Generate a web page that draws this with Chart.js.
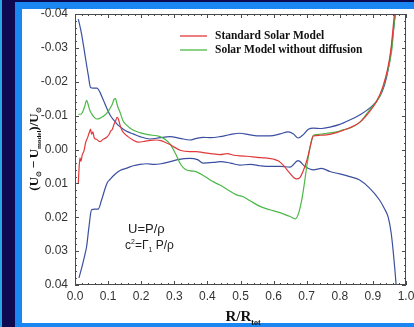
<!DOCTYPE html>
<html><head><meta charset="utf-8">
<script src="https://cdn.jsdelivr.net/npm/chart.js@4.4.1/dist/chart.umd.min.js"></script>
<style>
html,body{margin:0;padding:0;}
body{width:414px;height:327px;position:relative;overflow:hidden;background:#0e0a52;}
#cy{position:absolute;left:0;top:0;width:2px;height:327px;background:#25a5e6;}
#bl{position:absolute;left:15px;top:2px;right:0;bottom:0;background:#1a86f2;}
#wh{position:absolute;left:22px;top:9px;right:0;bottom:4px;background:#fff;}
#wrap{position:absolute;left:0;top:0;width:414px;height:327px;}
</style></head>
<body>
<div id="cy"></div><div id="bl"></div><div id="wh"></div>
<div id="wrap"><canvas id="c" width="414" height="327"></canvas></div>
<script>
// ---- data ----
const xTicks = [0.0,0.1,0.2,0.3,0.4,0.5,0.6,0.7,0.8,0.9,1.0];
const yTicks = [-0.04,-0.03,-0.02,-0.01,0.00,0.01,0.02,0.03,0.04];
const seriesNames = ['Standard Solar Model','Solar Model without diffusion'];

const redX = [0.01,0.012,0.015,0.018,0.022,0.027,0.032,0.038,0.043,0.047,0.05,0.054,0.058,0.065,0.075,0.085,0.096,0.103,0.108,0.113,0.118,0.122,0.127,0.131,0.136,0.141,0.15,0.16,0.175,0.19,0.21,0.227,0.245,0.26,0.275,0.287,0.30,0.32,0.347,0.367,0.387,0.41,0.438,0.46,0.48,0.498,0.52,0.55,0.575,0.598,0.615,0.629,0.645,0.66,0.67,0.68,0.69,0.698,0.705,0.712,0.72,0.74,0.76,0.79,0.83,0.86,0.89,0.91,0.93,0.945,0.955,0.962,0.966];
const redY = [0.0100,0.0060,0.0025,0.0035,0.0015,0.0005,-0.0020,-0.0035,-0.0050,-0.0060,-0.0045,-0.0052,-0.0035,-0.0030,-0.0023,-0.0030,-0.0036,-0.0045,-0.0055,-0.0060,-0.0075,-0.0082,-0.0095,-0.0090,-0.0072,-0.0058,-0.0046,-0.0038,-0.0028,-0.0022,-0.0024,-0.0027,-0.0028,-0.0026,-0.0020,-0.0015,-0.0007,0.0003,0.0006,0.0006,0.0009,0.0012,0.0015,0.0012,0.0017,0.0019,0.0020,0.0023,0.0025,0.0028,0.0034,0.0046,0.0065,0.0082,0.0087,0.0082,0.0062,0.0040,0.0015,-0.0015,-0.0040,-0.0042,-0.0043,-0.0050,-0.0064,-0.0080,-0.0112,-0.0140,-0.0185,-0.0240,-0.0300,-0.0370,-0.0410];

const greenX = [0.01,0.018,0.025,0.03,0.035,0.04,0.045,0.05,0.058,0.065,0.075,0.085,0.095,0.105,0.112,0.118,0.122,0.128,0.136,0.145,0.156,0.171,0.196,0.22,0.257,0.275,0.29,0.305,0.32,0.335,0.35,0.367,0.39,0.415,0.438,0.46,0.488,0.51,0.53,0.559,0.589,0.61,0.629,0.65,0.665,0.675,0.685,0.693,0.70,0.708,0.715,0.72,0.74,0.76,0.79,0.81,0.83,0.86,0.89,0.92,0.94,0.957,0.965,0.968];
const greenY = [-0.0104,-0.0104,-0.0115,-0.0130,-0.0145,-0.0132,-0.0115,-0.0106,-0.0095,-0.0090,-0.0092,-0.0098,-0.0106,-0.0120,-0.0132,-0.0148,-0.0150,-0.0130,-0.0110,-0.0085,-0.0072,-0.0060,-0.0050,-0.0044,-0.0038,-0.0028,-0.0012,0.0015,0.0045,0.0060,0.0063,0.0066,0.0078,0.0094,0.0105,0.0118,0.0134,0.0140,0.0152,0.0168,0.0178,0.0184,0.0190,0.0198,0.0205,0.0190,0.0149,0.0100,0.0051,0.0005,-0.0028,-0.0042,-0.0045,-0.0048,-0.0052,-0.0058,-0.0063,-0.0080,-0.0117,-0.0156,-0.0215,-0.0293,-0.0380,-0.0410];

const blueUpX = [0.01,0.02,0.03,0.04,0.047,0.055,0.066,0.076,0.086,0.096,0.106,0.116,0.13,0.146,0.16,0.176,0.196,0.227,0.257,0.287,0.317,0.347,0.367,0.387,0.41,0.438,0.468,0.498,0.525,0.55,0.589,0.62,0.644,0.66,0.674,0.69,0.705,0.72,0.745,0.77,0.80,0.83,0.86,0.89,0.92,0.935,0.946,0.955,0.961,0.969];
const blueUpY = [-0.0385,-0.0340,-0.0280,-0.0220,-0.0183,-0.0181,-0.0181,-0.0168,-0.0145,-0.0122,-0.0102,-0.0088,-0.0072,-0.0060,-0.0052,-0.0046,-0.0038,-0.0031,-0.0035,-0.0038,-0.0033,-0.0028,-0.0033,-0.0036,-0.0035,-0.0038,-0.0044,-0.0048,-0.0044,-0.0040,-0.0040,-0.0046,-0.0052,-0.0046,-0.0034,-0.0044,-0.0060,-0.0063,-0.0062,-0.0066,-0.0074,-0.0087,-0.0102,-0.0122,-0.0155,-0.0190,-0.0235,-0.0290,-0.0343,-0.0410];

const blueLoX = [0.012,0.02,0.03,0.035,0.042,0.05,0.06,0.07,0.08,0.09,0.097,0.106,0.12,0.136,0.157,0.176,0.196,0.217,0.24,0.26,0.287,0.31,0.347,0.37,0.387,0.42,0.438,0.47,0.498,0.53,0.56,0.589,0.62,0.65,0.674,0.695,0.72,0.745,0.77,0.80,0.83,0.86,0.89,0.92,0.935,0.946,0.955,0.961,0.966,0.971];
const blueLoY = [0.0379,0.0350,0.0310,0.0287,0.0230,0.0178,0.0176,0.0176,0.0150,0.0118,0.0099,0.0088,0.0074,0.0062,0.0055,0.0048,0.0044,0.0042,0.0044,0.0042,0.0036,0.0030,0.0026,0.0030,0.0040,0.0038,0.0036,0.0040,0.0046,0.0044,0.0048,0.0050,0.0050,0.0052,0.0033,0.0050,0.0060,0.0056,0.0065,0.0072,0.0080,0.0090,0.0114,0.0149,0.0175,0.0199,0.0245,0.0297,0.0350,0.0410];

// ---- helpers ----
const pts = (xs, ys) => xs.map((x, i) => ({x: x, y: ys[i]}));
const RED = '#e0393b', GREEN = '#4cb848', BLUE = '#3b4fa0', AXIS = '#4a4a4a';
const SERIF = '"Liberation Serif","Times New Roman",serif';
const SANS = '"Liberation Sans",Arial,sans-serif';

function richWidth(ctx, parts, big, small, weight, family) {
  let w = 0;
  for (const p of parts) {
    ctx.font = weight + ' ' + (p.s ? small : big) + 'px ' + family;
    w += ctx.measureText(p.t).width;
  }
  return w;
}
function drawRich(ctx, parts, x, y, big, small, weight, family) {
  let cx = x;
  for (const p of parts) {
    ctx.font = weight + ' ' + (p.s ? small : big) + 'px ' + family;
    const dy = p.s === 'sub' ? big * 0.25 : (p.s === 'sup' ? -big * 0.38 : 0);
    ctx.fillText(p.t, cx, y + dy);
    cx += ctx.measureText(p.t).width;
  }
}

const decor = {
  id: 'decor',
  afterDatasetsDraw(chart) {
    const ctx = chart.ctx, ca = chart.chartArea;
    const xs = chart.scales.x, ys = chart.scales.y;
    ctx.save();
    ctx.strokeStyle = AXIS; ctx.lineWidth = 1;
    ctx.strokeRect(Math.round(ca.left) + 0.5, Math.round(ca.top) + 0.5,
      Math.round(ca.right - ca.left) - 1, Math.round(ca.bottom - ca.top) - 1);
    ctx.beginPath();
    for (let i = 0; i <= 50; i++) {
      const px = Math.round(xs.getPixelForValue(i * 0.02)) + 0.5;
      const L = (i % 5 === 0) ? 4 : 2;
      ctx.moveTo(px, ca.bottom); ctx.lineTo(px, ca.bottom - L);
      ctx.moveTo(px, ca.top); ctx.lineTo(px, ca.top + L);
    }
    for (let i = -20; i <= 20; i++) {
      const py = Math.round(ys.getPixelForValue(i * 0.002)) + 0.5;
      const L = (i % 5 === 0) ? 4 : 2;
      ctx.moveTo(ca.left, py); ctx.lineTo(ca.left + L, py);
      ctx.moveTo(ca.right, py); ctx.lineTo(ca.right - L, py);
    }
    ctx.stroke();

    // legend
    const ds = chart.data.datasets;
    ctx.textBaseline = 'middle'; ctx.fillStyle = '#111';
    ctx.font = 'bold 11.5px ' + SERIF;
    [[0, 36], [1, 50]].forEach(([i, y]) => {
      ctx.strokeStyle = ds[i].borderColor; ctx.lineWidth = 1.3;
      ctx.beginPath(); ctx.moveTo(180, y); ctx.lineTo(207, y); ctx.stroke();
      ctx.fillText(ds[i].label, 215, y + 0.5);
    });

    // annotations
    ctx.textBaseline = 'alphabetic'; ctx.fillStyle = '#222';
    ctx.font = '13px ' + SANS;
    ctx.fillText('U=P/\u03C1', 128, 233);
    drawRich(ctx, [{t:'c'},{t:'2',s:'sup'},{t:'=\u0393'},{t:'1',s:'sub'},{t:' P/\u03C1'}], 125, 249, 12, 7, 'normal', SANS);

    // x title
    ctx.fillStyle = '#111';
    const xt = [{t:'R/R'},{t:'tot',s:'sub'}];
    const xw = richWidth(ctx, xt, 15, 8, 'bold', SERIF);
    drawRich(ctx, xt, 243 - xw / 2, 321, 15, 8, 'bold', SERIF);

    // y title
    const yt = [{t:'(U'},{t:'\u2299',s:'sub'},{t:'\u2009\u2212\u2009U'},{t:'model',s:'sub'},{t:')/U'},{t:'\u2299',s:'sub'}];
    let fs = 13, ss = 7;
    let yw = richWidth(ctx, yt, fs, ss, 'bold', SERIF);
    const sc = 84 / yw; // fit the label length seen in the reference
    ctx.translate(38, 149);
    ctx.rotate(-Math.PI / 2);
    ctx.scale(Math.min(1, sc), 1);
    drawRich(ctx, yt, -yw / 2, 0, fs, ss, 'bold', SERIF);
    ctx.restore();
  }
};

const line = (label, xs, ys, color) => ({
  label: label, data: pts(xs, ys), borderColor: color, backgroundColor: color,
  borderWidth: 1.2, pointRadius: 0, fill: false, cubicInterpolationMode: 'monotone'
});

new Chart(document.getElementById('c'), {
  type: 'line',
  data: {
    datasets: [
      line(seriesNames[0], redX, redY, RED),
      line(seriesNames[1], greenX, greenY, GREEN),
      line('upper', blueUpX, blueUpY, BLUE),
      line('lower', blueLoX, blueLoY, BLUE)
    ]
  },
  options: {
    responsive: false, animation: false, devicePixelRatio: 1,
    layout: {padding: {left: 0, right: 8, top: 14, bottom: 0}},
    plugins: {legend: {display: false}, tooltip: {enabled: false}},
    scales: {
      x: {
        type: 'linear', min: 0, max: 1,
        afterBuildTicks: s => { s.ticks = xTicks.map(v => ({value: v})); },
        ticks: {callback: v => Number(v).toFixed(1), font: {family: SANS, size: 12}, color: '#333',
                padding: 4, maxRotation: 0, autoSkip: false},
        grid: {display: false, drawTicks: false}, border: {display: false},
        afterFit: s => { s.height = 42; s.paddingLeft = 0; s.paddingRight = 0; }
      },
      y: {
        type: 'linear', min: -0.04, max: 0.04, reverse: true,
        afterBuildTicks: s => { s.ticks = yTicks.map(v => ({value: v})); },
        ticks: {callback: v => (Math.abs(v) < 1e-9 ? 0 : v).toFixed(2), font: {family: SANS, size: 12}, color: '#333',
                padding: 7, autoSkip: false},
        grid: {display: false, drawTicks: false}, border: {display: false},
        afterFit: s => { s.width = 75; s.paddingTop = 0; s.paddingBottom = 0; }
      }
    }
  },
  plugins: [decor]
});
</script>
</body></html>
